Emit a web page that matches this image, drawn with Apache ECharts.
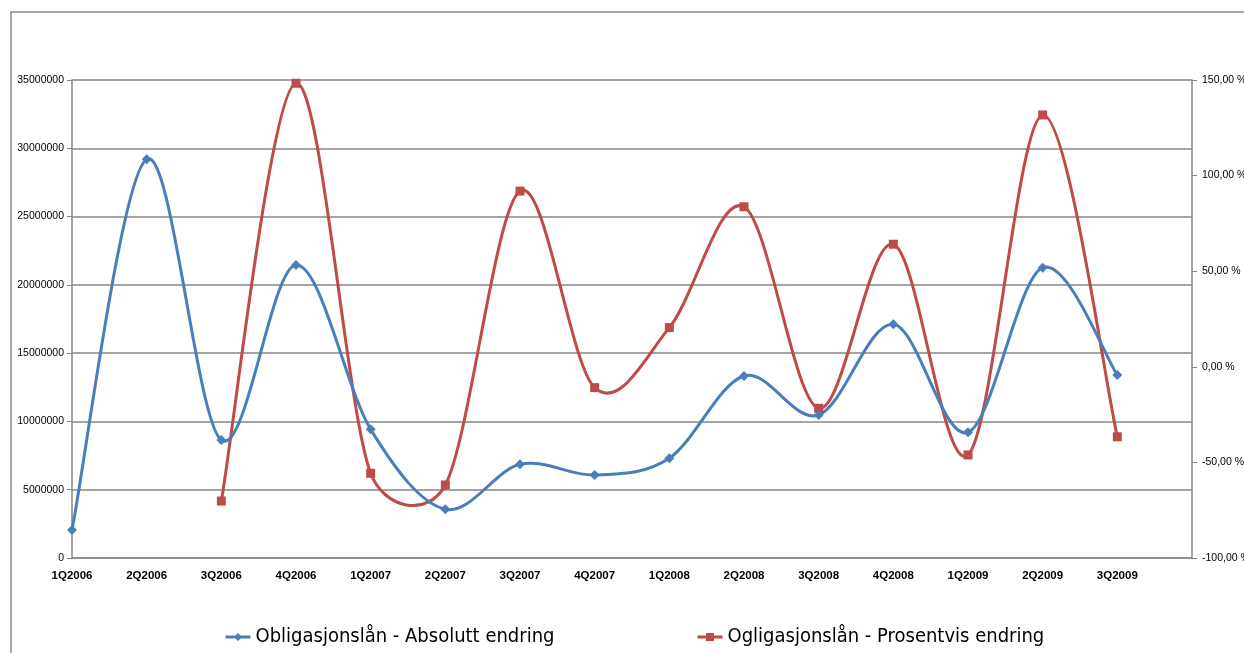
<!DOCTYPE html>
<html>
<head>
<meta charset="utf-8">
<script src="https://cdn.jsdelivr.net/npm/echarts@6/dist/echarts.min.js"></script>
<style>
html,body{margin:0;padding:0;background:#fff;overflow:hidden;}
#chart{width:1244px;height:653px;}
</style>
</head>
<body>
<div id="chart"></div>
<script>
const categories = ['1Q2006','2Q2006','3Q2006','4Q2006','1Q2007','2Q2007','3Q2007','4Q2007','1Q2008','2Q2008','3Q2008','4Q2008','1Q2009','2Q2009','3Q2009',''];
const absoluttEndring = [2050000, 29200000, 8640000, 21450000, 9420000, 3570000, 6860000, 6080000, 7300000, 13330000, 10470000, 17110000, 9200000, 21260000, 13400000];
const prosentvisEndring = [null, null, -70.2, 148.3, -55.7, -61.8, 91.9, -10.9, 20.5, 83.7, -21.7, 64.1, -46.1, 131.7, -36.6];
const seriesNames = ['Obligasjonslån - Absolutt endring', 'Ogligasjonslån - Prosentvis endring'];
const blue = '#4a7ebb';
const red = '#be4b48';

function dist(a, b) { return Math.hypot(b[0] - a[0], b[1] - a[1]); }

// Excel-style smoothed curve (Bezier, tension 1/6, control arm capped at half the segment)
function smoothRenderer(values, color) {
  return function (params, api) {
    if (params.dataIndex !== 0) return null;
    const segments = [];
    let cur = [];
    values.forEach((v, i) => {
      if (v == null) { if (cur.length) segments.push(cur); cur = []; }
      else cur.push(api.coord([i, v]));
    });
    if (cur.length) segments.push(cur);
    let d = '';
    segments.forEach(pts => {
      d += 'M' + pts[0][0] + ' ' + pts[0][1];
      for (let i = 0; i < pts.length - 1; i++) {
        const p0 = pts[i - 1] || pts[i];
        const p1 = pts[i];
        const p2 = pts[i + 1];
        const p3 = pts[i + 2] || pts[i + 1];
        const d12 = dist(p1, p2);
        const d02 = dist(p0, p2) || 1;
        const d13 = dist(p1, p3) || 1;
        const f0 = Math.min(1 / 6, 0.5 * d12 / d02);
        const f1 = Math.min(1 / 6, 0.5 * d12 / d13);
        const c1x = p1[0] + (p2[0] - p0[0]) * f0, c1y = p1[1] + (p2[1] - p0[1]) * f0;
        const c2x = p2[0] - (p3[0] - p1[0]) * f1, c2y = p2[1] - (p3[1] - p1[1]) * f1;
        d += 'C' + c1x + ' ' + c1y + ' ' + c2x + ' ' + c2y + ' ' + p2[0] + ' ' + p2[1];
      }
    });
    return {
      type: 'path',
      shape: { pathData: d },
      style: { fill: 'none', stroke: color, lineWidth: 3, lineJoin: 'round', lineCap: 'round' },
      silent: true
    };
  };
}

function toPairs(values) {
  return values.map((v, i) => v == null ? null : [i, v]).filter(Boolean);
}

const chart = echarts.init(document.getElementById('chart'));
const gridColor = '#868686';
const legendText = { fontFamily: 'Liberation Sans Narrow, DejaVu Sans Condensed, sans-serif', fontSize: 20, color: '#000' };
chart.setOption({
  animation: false,
  backgroundColor: '#fff',
  graphic: [{
    type: 'rect',
    shape: { x: 11, y: 12, width: 1400, height: 800 },
    style: { fill: 'none', stroke: '#8a8a8a', lineWidth: 1.5 },
    silent: true
  }],
  grid: { left: 72, right: 52, top: 80, bottom: 95, containLabel: false, outerBoundsMode: 'none' },
  legend: [{
    data: [seriesNames[0]],
    left: 219, top: 622,
    itemWidth: 25, itemHeight: 10, itemGap: 2,
    lineStyle: { color: blue, width: 3, opacity: 1 },
    textStyle: legendText
  }, {
    data: [seriesNames[1]],
    left: 691, top: 622,
    itemWidth: 25, itemHeight: 10, itemGap: 2,
    lineStyle: { color: red, width: 3, opacity: 1 },
    textStyle: legendText
  }],
  xAxis: {
    type: 'category',
    data: categories,
    boundaryGap: false,
    axisLine: { lineStyle: { color: gridColor, width: 1.5 } },
    axisTick: { show: false },
    axisLabel: { interval: 0, margin: 12, fontFamily: 'Liberation Sans, sans-serif', fontWeight: 'bold', fontSize: 11.5, color: '#000' },
    splitLine: { show: false }
  },
  yAxis: [{
    type: 'value',
    min: 0, max: 35000000, interval: 5000000,
    axisLine: { show: true, lineStyle: { color: gridColor, width: 1.5 } },
    axisTick: { show: true, length: 5, lineStyle: { color: gridColor } },
    axisLabel: { formatter: v => String(v), fontFamily: 'Liberation Sans, sans-serif', fontSize: 10.5, color: '#000', margin: 8 },
    splitLine: { show: true, lineStyle: { color: gridColor, width: 1.5 } }
  }, {
    type: 'value',
    position: 'right',
    min: -100, max: 150, interval: 50,
    axisLine: { show: true, lineStyle: { color: gridColor, width: 1.5 } },
    axisTick: { show: true, length: 5, lineStyle: { color: gridColor } },
    axisLabel: { formatter: v => v.toFixed(2).replace('.', ',') + ' %', fontFamily: 'Liberation Sans, sans-serif', fontSize: 10.5, color: '#000', margin: 10 },
    splitLine: { show: false }
  }],
  series: [{
    name: 'curve-abs',
    type: 'custom',
    yAxisIndex: 0,
    data: toPairs(absoluttEndring),
    renderItem: smoothRenderer(absoluttEndring, blue),
    clip: false,
    z: 3
  }, {
    name: 'curve-pct',
    type: 'custom',
    yAxisIndex: 1,
    data: toPairs(prosentvisEndring),
    renderItem: smoothRenderer(prosentvisEndring, red),
    clip: false,
    z: 2
  }, {
    name: seriesNames[0],
    type: 'line',
    yAxisIndex: 0,
    data: absoluttEndring,
    symbol: 'diamond',
    symbolSize: 10,
    showAllSymbol: true,
    lineStyle: { color: blue, width: 3, opacity: 0 },
    itemStyle: { color: blue },
    z: 4
  }, {
    name: seriesNames[1],
    type: 'line',
    yAxisIndex: 1,
    data: prosentvisEndring,
    symbol: 'rect',
    symbolSize: 9,
    showAllSymbol: true,
    lineStyle: { color: red, width: 3, opacity: 0 },
    itemStyle: { color: red },
    z: 3
  }]
});
</script>
</body>
</html>
